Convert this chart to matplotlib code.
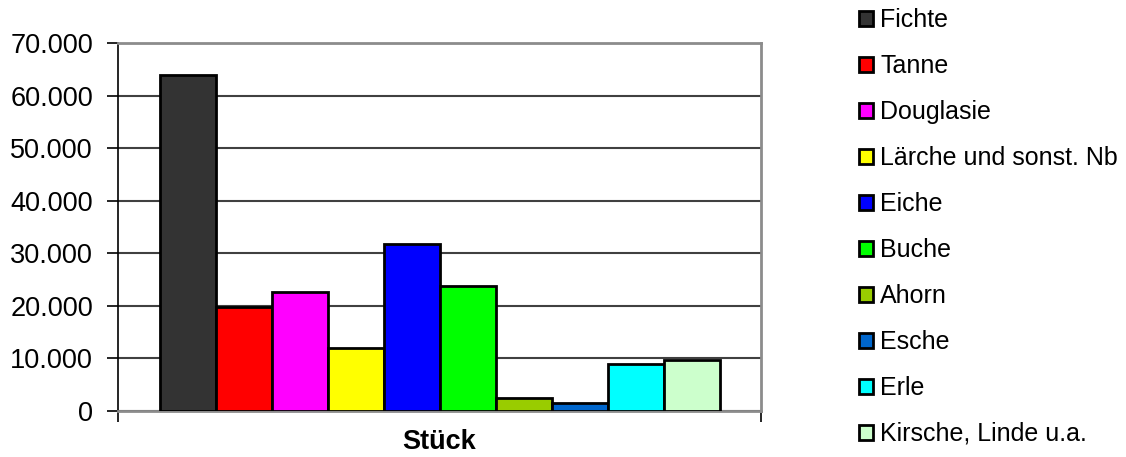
import matplotlib.pyplot as plt
from matplotlib.patches import Patch
from matplotlib.ticker import FuncFormatter

plt.rcParams["font.family"] = ["Liberation Sans", "DejaVu Sans"]

# Stückzahlen je Baumart
species = ["Fichte", "Tanne", "Douglasie", "Lärche und sonst. Nb", "Eiche",
           "Buche", "Ahorn", "Esche", "Erle", "Kirsche, Linde u.a."]
counts = [63900, 19800, 22700, 12000, 31700, 23800, 2400, 1500, 8900, 9700]
colors = ["#333333", "#ff0000", "#ff00ff", "#ffff00", "#0000ff",
          "#00ff00", "#99cc00", "#0066cc", "#00ffff", "#ccffcc"]
category = "Stück"
yticks = [0, 10000, 20000, 30000, 40000, 50000, 60000, 70000]

fig = plt.figure(figsize=(11.26, 4.57), dpi=100)
ax = fig.add_axes([118 / 1126, 46 / 457, 643 / 1126, 368 / 457])

# one category, bars side by side with excel-like gap on both sides
xs = list(range(len(counts)))
ax.bar(xs, counts, width=1.0, color=colors, edgecolor="black",
       linewidth=2, zorder=3)
ax.set_xlim(-0.5 - 0.75, len(counts) - 0.5 + 0.73)
ax.set_ylim(0, 70000)

ax.set_yticks(yticks)
ax.yaxis.set_major_formatter(
    FuncFormatter(lambda v, p: f"{int(v):,}".replace(",", ".")))
ax.grid(axis="y", color="#404040", linewidth=1.5, zorder=0)
ax.tick_params(axis="y", direction="out", length=8, width=1.2,
               labelsize=19.5, pad=10, colors="black")

# x axis: ticks only at both plot edges, category label in the middle
ax.set_xticks([ax.get_xlim()[0], ax.get_xlim()[1]])
ax.set_xticklabels(["", ""])
ax.tick_params(axis="x", direction="out", length=8, width=1.2)
ax.text(0.5, -0.085, category, transform=ax.transAxes, ha="center",
        va="center", fontsize=19.5, fontweight="bold")

ax.spines["left"].set_color("black")
ax.spines["left"].set_linewidth(1.2)
for side in ["top", "right", "bottom"]:
    ax.spines[side].set_color("#8c8c8c")
    ax.spines[side].set_linewidth(2)

handles = [Patch(facecolor=c, edgecolor="black", linewidth=2) for c in colors]
fig.legend(handles, species, loc="upper left",
           bbox_to_anchor=(854 / 1126, 1 - 3 / 457), frameon=False,
           fontsize=18, handlelength=0.55, handleheight=0.55,
           handletextpad=0.3, labelspacing=0.88, borderaxespad=0.0,
           borderpad=0.2)

fig.savefig("out.png", dpi=100)
